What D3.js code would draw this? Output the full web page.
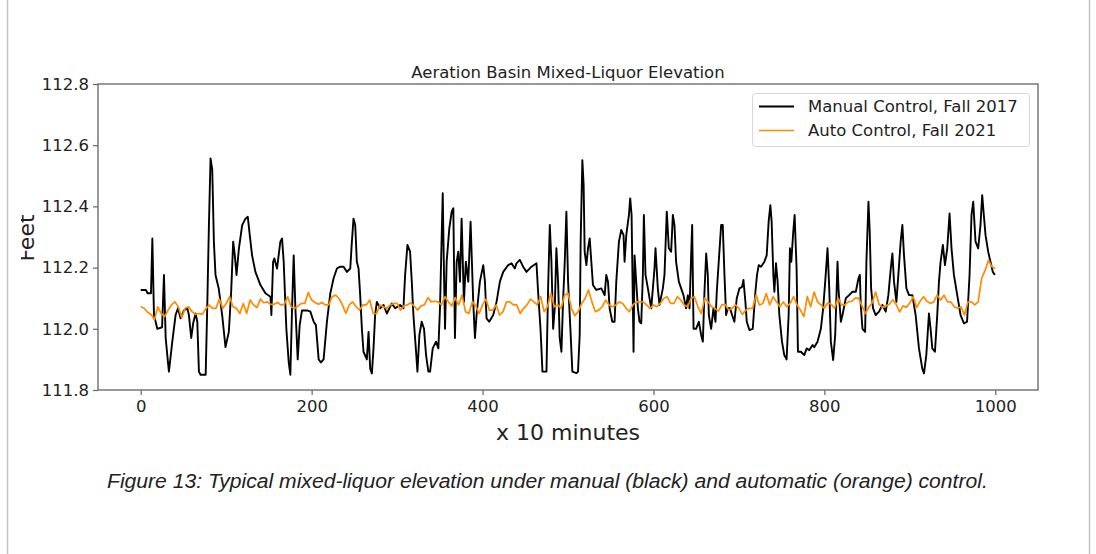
<!DOCTYPE html>
<html>
<head>
<meta charset="utf-8">
<script src="https://cdn.jsdelivr.net/npm/d3@7"></script>
<style>
  html, body { margin: 0; padding: 0; background: #fff; }
  svg { display: block; }
</style>
</head>
<body>
<svg width="1096" height="554"></svg>
<script>
const width = 1096;
const height = 554;

// data (x in units of 10 minutes, y in feet)
const xTicks = [0, 200, 400, 600, 800, 1000];
const yTicks = [111.8, 112.0, 112.2, 112.4, 112.6, 112.8];

const manualT = [0, 6, 8, 12, 13.6, 15.5, 19.4, 25, 27.2, 29.2, 31.9, 33, 37, 40.8, 43.6, 46.7, 50.6, 54.5, 56.4, 59.1,
  61.5, 64.2, 66.2, 68.1, 70, 76, 77.8, 79.8, 81.7, 83.7, 85.6, 87.5, 91.4, 95.3, 99.2, 103.1, 105.8, 108.2, 110.1, 112.1,
  114.8, 118.7, 122.6, 125.3, 127.6, 130.3, 134.2, 140.1, 145.9, 151.8, 152.9, 154.9, 156.4, 159.5, 163.4, 165.4, 167.3, 170.4, 173.2, 175.1,
  177.1, 179, 181, 183.7, 186, 188.7, 194.6, 198.5, 202.4, 205, 208.2, 210.9, 214, 217.9, 221.8, 225.7, 229.6, 233.5, 237.4, 241.3,
  245.2, 247.1, 249, 251, 252.9, 254.9, 256.8, 258.8, 260.7, 264.6, 266.6, 268.5, 270.5, 272.4, 274.3, 276.3, 280.2, 284.1, 288, 293.8,
  297.7, 303.5, 307.4, 309.4, 312.1, 315.2, 317.2, 319.1, 322.2, 323.8, 326.1, 328.8, 331.5, 333.9, 336.6, 338.6, 341.7, 345.6, 348.3, 350.2,
  353.4, 354.9, 356.1, 358, 361.1, 363.9, 365.8, 367.7, 369.7, 371.6, 373.6, 375.5, 378.2, 380.5, 383.3, 386, 389.1, 391.1, 393, 396.9,
  400.8, 402.8, 404.7, 407.8, 412.5, 416.4, 420.3, 424.2, 430, 433.9, 437.8, 439.7, 443.6, 447.5, 451.4, 457.3, 463.1, 465, 467.8, 468.9,
  470.1, 474.8, 476.7, 478.7, 480.6, 482.6, 484.5, 486.4, 488.4, 490.3, 492.3, 494.2, 496.2, 498.1, 500.1, 502.8, 505.1, 509.8, 511.7, 513.7,
  514.8, 516.8, 518.3, 519.5, 521.5, 523.4, 525.4, 527.3, 529.2, 533.1, 539, 542.9, 544.8, 546.8, 548.7, 551.8, 554.5, 556.5, 559.6, 562.3,
  565, 566.2, 568.2, 571.3, 572.8, 574.4, 576, 576.7, 577.9, 579.8, 581.8, 583.7, 585.7, 587.6, 588.8, 590.7, 593.5, 597.4, 601.2, 602.4,
  605.1, 607.1, 611, 612.9, 615.6, 618, 620.7, 622.7, 624.6, 626.5, 629.7, 632.4, 635.1, 638.2, 640.2, 642.2, 644.1, 645.3, 646.9, 649.9,
  653.1, 655.8, 657.8, 659.7, 661.7, 663.6, 664.8, 667.5, 670.2, 672.6, 674.1, 676.4, 679.2, 681.1, 683.1, 685, 687, 689.7, 692, 694.7,
  697.5, 700.6, 703.7, 705.3, 707.6, 709.2, 712.3, 716.2, 719.3, 721.2, 723.2, 725.9, 729.8, 732.5, 734.8, 736.8, 738.3, 740.3, 741.5, 743.4,
  745.3, 747.3, 750.4, 753.1, 755.8, 758.2, 759.7, 761.3, 763.6, 765.2, 767.5, 769.1, 772.6, 776.5, 779.3, 782.3, 786.2, 788.1, 792, 795.9,
  798.6, 801, 803.7, 805.7, 807.6, 810.3, 812.7, 815.4, 816.5, 819.3, 821.2, 825.1, 829, 832.9, 836.8, 839.9, 841.5, 842.6, 844.6, 847.7,
  849.2, 851.6, 853.1, 854.7, 857, 860.1, 864, 867.9, 871.8, 874.9, 877.7, 879.6, 881.5, 884.3, 886.6, 889.3, 891.3, 893.2, 896, 899.1,
  903, 906.8, 910.7, 914.6, 916.6, 919.3, 922.4, 924.3, 926.3, 929.4, 932.1, 934.1, 936, 938.7, 941.1, 943.8, 946.5, 948.8, 951.6, 955.5,
  959.4, 963.3, 967, 969.9, 972.2, 974.2, 976.9, 980, 982.7, 984.7, 986.6, 988.6, 991.7, 994.4, 997.1, 999.5];

const manualFeet = [112.127, 112.127, 112.116, 112.116, 112.295, 112.045, 112.0, 112.005, 112.176, 111.97, 111.89, 111.86, 111.96, 112.045, 112.067, 112.034, 112.06, 112.067, 112.045, 111.97,
  112.02, 112.05, 112.023, 111.86, 111.85, 111.85, 112.067, 112.34, 112.557, 112.52, 112.285, 112.176, 112.13, 112.045, 111.94, 111.99, 112.12, 112.285, 112.24, 112.176,
  112.26, 112.339, 112.36, 112.366, 112.306, 112.24, 112.186, 112.143, 112.116, 112.105, 112.045, 112.219, 112.23, 112.197, 112.285, 112.295, 112.219, 112.0, 111.89, 111.85,
  112.067, 112.24, 112.067, 111.9, 112.012, 112.06, 112.06, 112.056, 112.023, 112.012, 111.9, 111.89, 111.9, 112.023, 112.115, 112.165, 112.197, 112.203, 112.203, 112.186,
  112.197, 112.285, 112.36, 112.339, 112.219, 112.197, 112.11, 112.0, 111.925, 111.9, 111.99, 111.87, 111.854, 111.936, 112.045, 112.088, 112.067, 112.078, 112.05, 112.083,
  112.067, 112.078, 112.067, 112.176, 112.274, 112.252, 112.154, 112.045, 111.925, 111.86, 111.98, 112.023, 112.0, 111.914, 111.86, 111.86, 111.936, 111.958, 111.936, 112.067,
  112.443, 112.176, 112.0, 112.219, 112.328, 112.383, 112.394, 111.97, 112.219, 112.252, 112.154, 112.36, 112.088, 112.219, 112.154, 112.35, 112.088, 111.97, 112.045, 112.154,
  112.208, 112.154, 112.034, 112.023, 112.045, 112.088, 112.154, 112.186, 112.208, 112.214, 112.197, 112.214, 112.225, 112.203, 112.186, 112.203, 112.214, 112.121, 112.0, 111.936,
  111.86, 111.86, 112.132, 112.339, 112.219, 112.0, 112.067, 112.263, 112.154, 111.97, 111.925, 112.088, 112.219, 112.383, 112.154, 112.0, 111.86, 111.855, 111.86, 111.98,
  112.285, 112.551, 112.47, 112.252, 112.208, 112.263, 112.295, 112.219, 112.143, 112.127, 112.132, 112.11, 112.176, 112.154, 112.067, 112.023, 112.023, 112.154, 112.285, 112.323,
  112.306, 112.219, 112.306, 112.372, 112.426, 112.372, 112.067, 111.925, 112.24, 112.154, 112.067, 112.023, 112.018, 112.176, 112.372, 112.176, 112.132, 112.067, 112.197, 112.263,
  112.132, 112.078, 112.132, 112.176, 112.383, 112.263, 112.252, 112.372, 112.339, 112.219, 112.154, 112.132, 112.11, 112.067, 112.11, 112.067, 112.24, 112.339, 112.0, 112.0,
  112.023, 111.98, 111.958, 112.121, 112.246, 112.176, 112.045, 112.0, 112.067, 112.023, 112.121, 112.219, 112.339, 112.339, 112.176, 112.045, 112.067, 112.067, 112.045, 112.023,
  112.1, 112.132, 112.137, 112.16, 112.088, 112.023, 111.996, 112.0, 112.121, 112.176, 112.208, 112.203, 112.219, 112.24, 112.35, 112.404, 112.35, 112.176, 112.121, 112.214,
  112.154, 112.045, 111.958, 111.914, 111.9, 112.045, 112.263, 112.219, 112.317, 112.372, 112.197, 111.925, 111.925, 111.914, 111.936, 111.93, 111.947, 111.94, 111.958, 112.0,
  112.067, 112.154, 112.263, 112.132, 111.958, 111.898, 111.98, 112.219, 112.132, 112.023, 112.045, 112.1, 112.11, 112.121, 112.121, 112.165, 112.176, 112.078, 112.0, 111.99,
  112.219, 112.415, 112.317, 112.132, 112.067, 112.045, 112.056, 112.078, 112.056, 112.11, 112.197, 112.246, 112.154, 112.088, 112.176, 112.285, 112.339, 112.24, 112.132, 112.11,
  112.11, 112.045, 111.936, 111.87, 111.854, 111.914, 112.05, 112.0, 111.936, 111.925, 112.045, 112.154, 112.219, 112.274, 112.208, 112.263, 112.377, 112.263, 112.176, 112.11,
  112.045, 112.018, 112.023, 112.176, 112.372, 112.415, 112.285, 112.263, 112.339, 112.437, 112.372, 112.306, 112.252, 112.219, 112.186, 112.176];

// auto control: one reading every 4 units, starting at 0
const autoStep = 4;
const autoFeet = [
  112.072, 112.067, 112.054, 112.047, 112.029, 112.072, 112.05, 112.04, 112.061, 112.078, 112.088, 112.072, 112.036, 112.067, 112.072, 112.056, 112.047, 112.05, 112.047, 112.065,
  112.078, 112.067, 112.067, 112.097,
  112.067, 112.083, 112.105, 112.072, 112.067, 112.05, 112.083, 112.05, 112.094, 112.078, 112.069, 112.097, 112.085, 112.088, 112.08, 112.08, 112.086, 112.078, 112.08, 112.105,
  112.071, 112.067, 112.074, 112.083, 112.083, 112.119, 112.094, 112.086, 112.08, 112.086, 112.078, 112.078, 112.105, 112.11,
  112.099, 112.078, 112.05, 112.078, 112.088, 112.072, 112.061, 112.078, 112.078, 112.094, 112.05, 112.05, 112.078, 112.072, 112.067, 112.078, 112.083, 112.083, 112.061, 112.075,
  112.078, 112.085, 112.074, 112.061, 112.075, 112.078, 112.102, 112.088, 112.09, 112.088, 112.078, 112.105, 112.088, 112.075, 112.102, 112.078, 112.11,
  112.056, 112.05, 112.088, 112.075, 112.05, 112.078, 112.097, 112.061, 112.061, 112.078, 112.045, 112.056, 112.088, 112.088, 112.078, 112.078, 112.05, 112.067, 112.078, 112.097,
  112.088, 112.078, 112.105, 112.056, 112.072, 112.116, 112.072, 112.078, 112.067, 112.11, 112.116, 112.067, 112.043, 112.056,
  112.083, 112.099, 112.127, 112.088, 112.056, 112.061, 112.072, 112.094, 112.078, 112.072, 112.078, 112.088, 112.083, 112.067, 112.056, 112.078, 112.088, 112.088, 112.088, 112.078,
  112.067, 112.078, 112.072, 112.083, 112.099, 112.105, 112.083, 112.083, 112.105, 112.094, 112.078, 112.072, 112.099, 112.105, 112.072,
  112.05, 112.10, 112.088, 112.072, 112.067, 112.058, 112.078, 112.08, 112.061, 112.067, 112.078, 112.067, 112.047, 112.061, 112.067, 112.067, 112.11, 112.078, 112.083, 112.115,
  112.078, 112.105, 112.088, 112.072, 112.088, 112.072, 112.083, 112.105, 112.078, 112.061, 112.04, 112.105, 112.072, 112.12, 112.088,
  112.078, 112.067, 112.085, 112.08, 112.067, 112.1, 112.078, 112.078, 112.088, 112.09, 112.1, 112.1, 112.075, 112.05, 112.07, 112.085, 112.12, 112.08, 112.07, 112.075,
  112.08, 112.095, 112.08, 112.055, 112.075, 112.07, 112.085, 112.105, 112.07, 112.09, 112.105, 112.09,
  112.083, 112.088, 112.11, 112.094, 112.11, 112.088, 112.088, 112.072, 112.067, 112.072, 112.045, 112.088, 112.088, 112.078, 112.088, 112.165, 112.19, 112.224, 112.203, 112.197];

const series = [
  { name: "Manual Control, Fall 2017", color: "#000000", width: 1.9, points: manualT.map((t, i) => [t, manualFeet[i]]) },
  { name: "Auto Control, Fall 2021", color: "#ff8c00", width: 1.7, points: autoFeet.map((v, i) => [i * autoStep, v]) }
];

const plot = { left: 98, right: 1038, top: 84, bottom: 390 };
const font = "'DejaVu Sans', sans-serif";

const svg = d3.select("svg");

// page frame around the figure
svg.append("path")
  .attr("d", `M7.5,0V${height}M1089.5,0V${height}`)
  .attr("stroke", "#c4c4c4")
  .attr("stroke-width", 1.5)
  .attr("fill", "none");

const x = d3.scaleLinear().domain([-50, 1050]).range([plot.left, plot.right]);
const y = d3.scaleLinear().domain([111.8, 112.8]).range([plot.bottom, plot.top]);

const defs = svg.append("defs");
defs.append("clipPath").attr("id", "plot-clip")
  .append("rect")
  .attr("x", plot.left).attr("y", plot.top)
  .attr("width", plot.right - plot.left).attr("height", plot.bottom - plot.top);
defs.append("clipPath").attr("id", "ylabel-clip")
  .append("rect")
  .attr("x", 21).attr("y", 0).attr("width", 60).attr("height", height);

const line = d3.line()
  .x(d => x(d[0]))
  .y(d => y(d[1]));

svg.append("g")
  .attr("clip-path", "url(#plot-clip)")
  .selectAll("path")
  .data(series)
  .join("path")
  .attr("d", d => line(d.points))
  .attr("fill", "none")
  .attr("stroke", d => d.color)
  .attr("stroke-width", d => d.width)
  .attr("stroke-linejoin", "round");

// axes
const yAxis = svg.append("g")
  .attr("transform", `translate(${plot.left},0)`)
  .call(d3.axisLeft(y).tickValues(yTicks).tickFormat(d3.format(".1f")).tickSize(5).tickPadding(4));

const xAxis = svg.append("g")
  .attr("transform", `translate(0,${plot.bottom})`)
  .call(d3.axisBottom(x).tickValues(xTicks).tickFormat(d3.format("d")).tickSize(5).tickPadding(5));

[xAxis, yAxis].forEach(g => {
  g.select(".domain").remove();
  g.selectAll(".tick line").attr("stroke", "#666").attr("stroke-width", 1.2);
  g.selectAll(".tick text")
    .attr("fill", "#222")
    .style("font-family", font)
    .style("font-size", "16.5px");
});

svg.append("rect")
  .attr("x", plot.left).attr("y", plot.top)
  .attr("width", plot.right - plot.left).attr("height", plot.bottom - plot.top)
  .attr("fill", "none")
  .attr("stroke", "#6e6e6e")
  .attr("stroke-width", 1.4);

// title and axis labels
svg.append("text")
  .attr("x", (plot.left + plot.right) / 2)
  .attr("y", 78)
  .attr("text-anchor", "middle")
  .attr("fill", "#222")
  .style("font-family", font)
  .style("font-size", "16.5px")
  .text("Aeration Basin Mixed-Liquor Elevation");

svg.append("text")
  .attr("x", (plot.left + plot.right) / 2)
  .attr("y", 440)
  .attr("text-anchor", "middle")
  .attr("fill", "#222")
  .style("font-family", font)
  .style("font-size", "22px")
  .text("x 10 minutes");

svg.append("g")
  .attr("clip-path", "url(#ylabel-clip)")
  .append("text")
  .attr("transform", "translate(34,238) rotate(-90)")
  .attr("text-anchor", "middle")
  .attr("fill", "#222")
  .style("font-family", font)
  .style("font-size", "22px")
  .text("Feet");

// legend
const legend = svg.append("g");
legend.append("rect")
  .attr("x", 752.5).attr("y", 93.5)
  .attr("width", 277).attr("height", 53)
  .attr("rx", 3)
  .attr("fill", "#fff")
  .attr("fill-opacity", 0.8)
  .attr("stroke", "#d8d8d8");

const entry = legend.selectAll("g.entry")
  .data(series)
  .join("g")
  .attr("class", "entry")
  .attr("transform", (d, i) => `translate(0,${106.5 + i * 24})`);

entry.append("line")
  .attr("x1", 759).attr("x2", 794)
  .attr("stroke", d => d.color)
  .attr("stroke-width", d => d.width);

entry.append("text")
  .attr("x", 808)
  .attr("dy", "0.35em")
  .attr("fill", "#222")
  .style("font-family", font)
  .style("font-size", "16.5px")
  .text(d => d.name);

// figure caption below the chart
const caption = svg.append("text")
  .attr("x", 107)
  .attr("y", 488)
  .attr("fill", "#222")
  .style("font-family", "'Liberation Sans', Arial, sans-serif")
  .style("font-style", "italic")
  .style("font-size", "18px")
  .text("Figure 13: Typical mixed-liquor elevation under manual (black) and automatic (orange) control.");

const capLen = caption.node().getComputedTextLength();
caption.style("font-size", (18 * 881 / capLen).toFixed(2) + "px");
</script>
</body>
</html>
